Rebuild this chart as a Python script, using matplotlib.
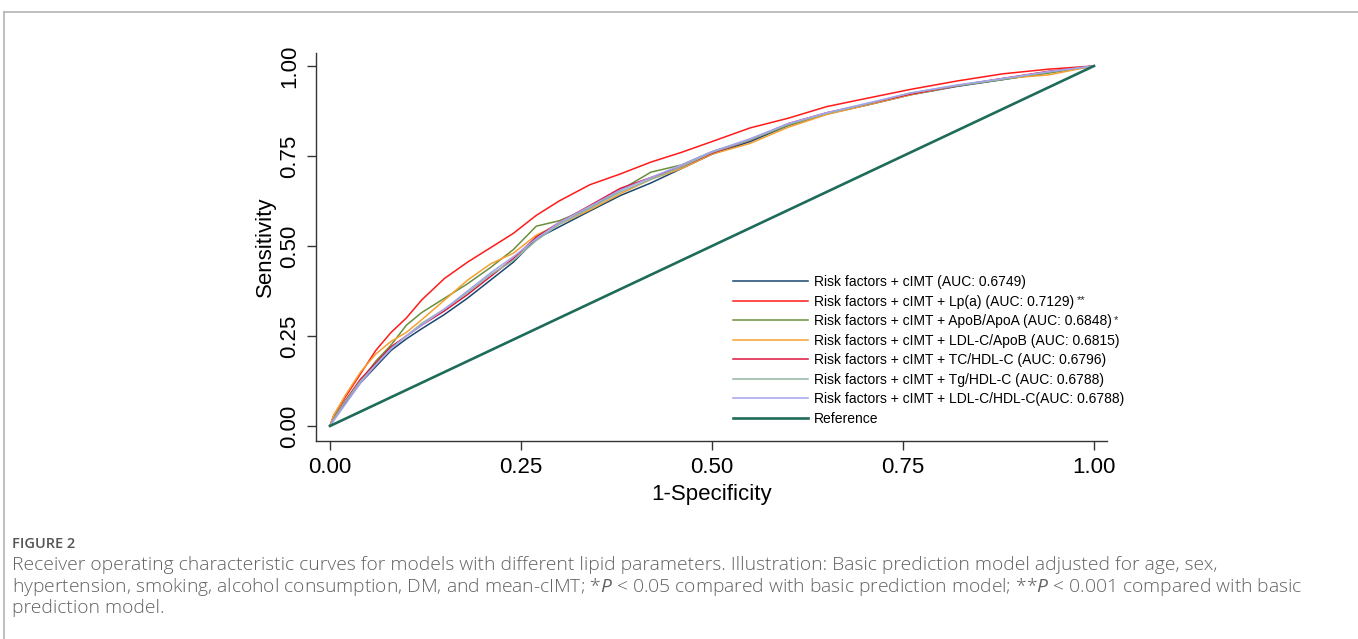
import matplotlib.pyplot as plt
from matplotlib.lines import Line2D

# values (1-specificity vs sensitivity)
fpr = [0, 0.005, 0.02, 0.04, 0.06, 0.08, 0.10, 0.12, 0.15, 0.18, 0.21, 0.24,
       0.27, 0.30, 0.34, 0.38, 0.42, 0.46, 0.50, 0.55, 0.60, 0.65, 0.70,
       0.76, 0.82, 0.88, 0.94, 1.0]

tpr_cimt = [0, 0.02, 0.064, 0.12, 0.165, 0.21, 0.242, 0.27, 0.31, 0.355, 0.405, 0.455,
            0.52, 0.553, 0.597, 0.64, 0.675, 0.715, 0.755, 0.79, 0.835, 0.867, 0.89,
            0.92, 0.943, 0.962, 0.982, 1.0]
tpr_lpa = [0, 0.03, 0.08, 0.145, 0.21, 0.26, 0.30, 0.35, 0.41, 0.455, 0.495, 0.535,
           0.585, 0.625, 0.67, 0.70, 0.733, 0.76, 0.79, 0.828, 0.855, 0.887, 0.909,
           0.935, 0.958, 0.978, 0.991, 1.0]
tpr_apob_apoa = [0, 0.025, 0.07, 0.125, 0.18, 0.225, 0.28, 0.315, 0.355, 0.395, 0.44, 0.49,
                 0.555, 0.57, 0.605, 0.655, 0.705, 0.725, 0.762, 0.795, 0.835, 0.867, 0.892,
                 0.922, 0.945, 0.962, 0.98, 1.0]
tpr_ldl_apob = [0, 0.03, 0.085, 0.15, 0.2, 0.235, 0.26, 0.295, 0.35, 0.405, 0.45, 0.48,
                0.53, 0.56, 0.60, 0.645, 0.685, 0.715, 0.755, 0.785, 0.83, 0.865, 0.89,
                0.92, 0.945, 0.965, 0.975, 1.0]
tpr_tc_hdl = [0, 0.02, 0.07, 0.13, 0.175, 0.22, 0.25, 0.28, 0.32, 0.365, 0.415, 0.465,
              0.525, 0.565, 0.612, 0.66, 0.69, 0.72, 0.758, 0.795, 0.84, 0.87, 0.893,
              0.922, 0.945, 0.965, 0.985, 1.0]
tpr_tg_hdl = [0, 0.02, 0.068, 0.125, 0.17, 0.215, 0.25, 0.285, 0.325, 0.37, 0.42, 0.46,
              0.515, 0.56, 0.605, 0.65, 0.685, 0.72, 0.76, 0.795, 0.838, 0.868, 0.893,
              0.925, 0.945, 0.963, 0.983, 1.0]
tpr_ldl_hdl = [0, 0.015, 0.06, 0.12, 0.17, 0.215, 0.25, 0.28, 0.325, 0.375, 0.425, 0.47,
               0.52, 0.565, 0.61, 0.655, 0.69, 0.725, 0.762, 0.798, 0.84, 0.87, 0.895,
               0.925, 0.947, 0.965, 0.984, 1.0]

curves = [tpr_cimt, tpr_lpa, tpr_apob_apoa, tpr_ldl_apob, tpr_tc_hdl, tpr_tg_hdl, tpr_ldl_hdl]
labels = ["Risk factors + cIMT (AUC: 0.6749)",
          "Risk factors + cIMT + Lp(a) (AUC: 0.7129)",
          "Risk factors + cIMT + ApoB/ApoA (AUC: 0.6848)",
          "Risk factors + cIMT + LDL-C/ApoB (AUC: 0.6815)",
          "Risk factors + cIMT + TC/HDL-C (AUC: 0.6796)",
          "Risk factors + cIMT + Tg/HDL-C (AUC: 0.6788)",
          "Risk factors + cIMT + LDL-C/HDL-C(AUC: 0.6788)"]
marks = ["", "**", "*", "", "", "", ""]
colors = ["#1a476f", "#ff1a1a", "#6a8f3c", "#f5a030", "#dc143c", "#92b4a2", "#a3a3ee"]
ref_x = [0, 1]
ref_y = [0, 1]

ticks = [0, 0.25, 0.5, 0.75, 1.0]
tick_labels = ["0.00", "0.25", "0.50", "0.75", "1.00"]

plt.rcParams['font.family'] = ['Liberation Sans', 'DejaVu Sans']
plt.rcParams['mathtext.fontset'] = 'custom'
plt.rcParams['mathtext.rm'] = 'Open Sans'
plt.rcParams['mathtext.it'] = 'Open Sans:italic'

W, H = 1358, 639
fig = plt.figure(figsize=(W / 100, H / 100), dpi=100)


def fx(px):
    return px / W


def fy(py):
    return 1 - py / H


ax = fig.add_axes([fx(316), fy(441), fx(1107 - 316), (441 - 53) / H])

for tpr, lab, col in zip(curves, labels, colors):
    ax.plot(fpr, tpr, color=col, lw=1.1, label=lab)
ax.plot(ref_x, ref_y, color="#1e6b5a", lw=1.9, label="Reference")

ax.set_xlim(-0.0183, 1.017)
ax.set_ylim(-0.0417, 1.036)
ax.spines[["top", "right"]].set_visible(False)
for s in ["left", "bottom"]:
    ax.spines[s].set_color("#333333")
    ax.spines[s].set_linewidth(1.0)
ax.set_xticks(ticks)
ax.set_xticklabels(tick_labels, fontsize=16)
ax.set_yticks(ticks)
ax.set_yticklabels(tick_labels, fontsize=16, rotation=90, va="center")
ax.tick_params(length=6.5, width=1.0, color="#333333", pad=5)
ax.set_xlabel("1-Specificity", fontsize=16, labelpad=4)
ax.set_ylabel("Sensitivity", fontsize=16, labelpad=2)

leg = ax.legend(loc="upper left", bbox_to_anchor=(fx(733), fy(275)),
                bbox_transform=fig.transFigure, frameon=False, fontsize=10,
                handlelength=5.4, handletextpad=0.45, labelspacing=0.4,
                borderpad=0, borderaxespad=0)

# raised significance stars after the legend labels
fig.canvas.draw()
for txt, mk in zip(leg.get_texts(), marks):
    if mk:
        bb = txt.get_window_extent()
        fig.text((bb.x1 + 2) / W, (bb.y1 - 0.5) / H, mk, fontsize=8,
                 va="top", ha="left", color="#222222")

# page frame lines
fig.add_artist(Line2D([fx(4), 1], [fy(12), fy(12)], color="#b4b4b4", lw=1.2))
fig.add_artist(Line2D([fx(4), fx(4)], [fy(12), 0], color="#b4b4b4", lw=1.2))

cap_font = ['Open Sans', 'DejaVu Sans']
fig.text(fx(12), fy(544), "FIGURE 2", fontsize=10.5, color="#555555",
         family=cap_font, va="center", fontweight="semibold")
cap_lines = [
    "Receiver operating characteristic curves for models with different lipid parameters. "
    "Illustration: Basic prediction model adjusted for age, sex,",
    "hypertension, smoking, alcohol consumption, DM, and mean-cIMT; *$P$ < 0.05 compared "
    "with basic prediction model; **$P$ < 0.001 compared with basic",
    "prediction model.",
]
for i, line in enumerate(cap_lines):
    fig.text(fx(12), fy(565 + 21.5 * i), line, fontsize=13.9, color="#626262",
             family=cap_font, va="center", fontweight="light")

fig.savefig("out.png", dpi=100)
